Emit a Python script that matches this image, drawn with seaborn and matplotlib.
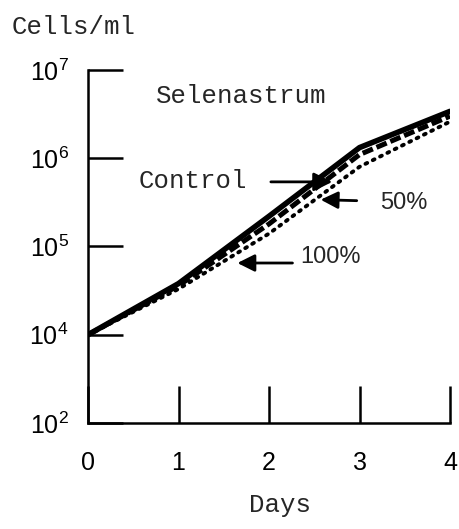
import matplotlib
matplotlib.use("Agg")
import matplotlib.pyplot as plt
import seaborn as sns
import pandas as pd

# Growth of Selenastrum (cells/ml) over four days
days = [0, 1, 2, 3, 4]
control = [1.0e4, 3.8e4, 2.2e5, 1.32e6, 3.4e6]
pct50 = [1.0e4, 3.6e4, 1.8e5, 1.1e6, 3.0e6]
pct100 = [1.0e4, 3.3e4, 1.4e5, 8.0e5, 2.6e6]

x_ticks = [0, 1, 2, 3, 4]
y_ticks = [1e3, 1e4, 1e5, 1e6, 1e7]
y_tick_labels = [r"$10^{2}$", r"$10^{4}$", r"$10^{5}$", r"$10^{6}$", r"$10^{7}$"]

sns.set_style("ticks")
plt.rcParams["font.family"] = ["Liberation Sans", "DejaVu Sans"]
plt.rcParams["mathtext.fontset"] = "custom"
plt.rcParams["mathtext.rm"] = "Liberation Sans"
plt.rcParams["mathtext.it"] = "Liberation Sans"
plt.rcParams["mathtext.bf"] = "Liberation Sans"

mono = ["Liberation Mono", "DejaVu Sans Mono"]

df = pd.DataFrame({
    "day": days * 3,
    "cells": control + pct50 + pct100,
    "group": ["Control"] * 5 + ["50%"] * 5 + ["100%"] * 5,
})

fig = plt.figure(figsize=(4.59, 5.29), dpi=100)
ax = fig.add_axes([88 / 459, 106 / 529, 362 / 459, 353 / 529])

styles = {
    "Control": dict(linestyle="-", linewidth=4.0),
    "50%": dict(linestyle=(0, (2.2, 0.8)), linewidth=3.6),
    "100%": dict(linestyle=(0, (0.5, 1.6)), linewidth=2.8, dash_capstyle="round"),
}
for name, kw in styles.items():
    sub = df[df["group"] == name]
    sns.lineplot(data=sub, x="day", y="cells", ax=ax, color="black",
                 legend=False, **kw)

ax.set_yscale("log")
ax.set_xlim(0, 4)
ax.set_ylim(1e3, 1e7)
ax.set_xticks(x_ticks)
ax.set_xticklabels([str(t) for t in x_ticks])
ax.set_yticks(y_ticks)
ax.set_yticklabels(y_tick_labels)
ax.minorticks_off()
ax.set_xlabel("")
ax.set_ylabel("")

for side in ("top", "right"):
    ax.spines[side].set_visible(False)
for side in ("left", "bottom"):
    ax.spines[side].set_linewidth(1.8)
    ax.spines[side].set_color("black")

ax.tick_params(axis="y", which="major", left=True, direction="in", length=25,
               width=1.8, pad=14, labelsize=18, colors="black")
ax.tick_params(axis="x", which="major", bottom=True, direction="in", length=27,
               width=1.8, pad=20, labelsize=18, colors="black")

# Title inside the plot and series labels with arrows
ax.text(0.75, 5.1e6, "Selenastrum", family=mono, fontsize=18.5,
        ha="left", va="center")

ax.text(1.76, 5.5e5, "Control", family=mono, fontsize=18.5,
        ha="right", va="center")
ax.annotate("", xy=(2.73, 5.4e5), xytext=(1.99, 5.4e5),
            arrowprops=dict(arrowstyle="-|>", mutation_scale=28, lw=2,
                            color="black"))

ax.text(3.23, 3.1e5, "50%", fontsize=17, ha="left", va="center")
ax.annotate("", xy=(2.54, 3.4e5), xytext=(3.0, 3.3e5),
            arrowprops=dict(arrowstyle="-|>", mutation_scale=26, lw=2,
                            color="black"))

ax.text(2.34, 7.6e4, "100%", fontsize=17, ha="left", va="center")
ax.annotate("", xy=(1.62, 6.5e4), xytext=(2.29, 6.5e4),
            arrowprops=dict(arrowstyle="-|>", mutation_scale=26, lw=2,
                            color="black"))

fig.text(12 / 459, 1 - 27 / 529, "Cells/ml", family=mono, fontsize=18.5,
         ha="left", va="center")
fig.text(280 / 459, 1 - 505 / 529, "Days", family=mono, fontsize=18.5,
         ha="center", va="center")

fig.savefig("out.png", dpi=100)
